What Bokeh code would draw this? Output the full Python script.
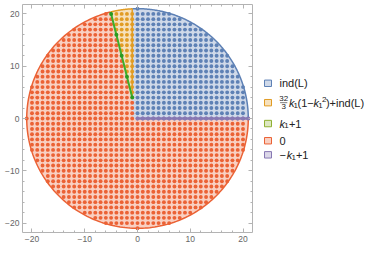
import numpy as np
from bokeh.plotting import figure
from bokeh.layouts import row
from bokeh.models import Range1d, LinearAxis, FixedTicker
from bokeh.embed import file_html
from bokeh.resources import INLINE
from bokeh.core.properties import value

# ---- data ----
radius = 21              # disk of integer lattice points
x_edge = -1              # vertical boundary between regions
slope_k = -0.25          # green line: x = slope_k * y
green_start_y = 4        # green line starts at (x_edge, green_start_y)
axis_min, axis_max = -21.8, 21.8
major_ticks = [-20, -10, 0, 10, 20]
minor_ticks = list(range(-22, 23, 2))
tick_overrides = {-20: "−20", -10: "−10"}

legend_names = ["ind(L)", "32/3 k1(1-k1^2)+ind(L)", "k1+1", "0", "-k1+1"]
dot_colors = ["#5E81B5", "#E19C24", "#8FB032", "#EB6235", "#8778B3"]
fill_colors = ["#CFD9E9", "#F6E1BD", "#DDE7C1", "#F9D0C2", "#DBD7E8"]
green_line_color = "#3DAE2B"
green_dot_color = "#2A9A22"

FONT = value("Liberation Sans")

# ---- lattice points & classification ----
gx, gy = np.meshgrid(np.arange(-radius, radius + 1), np.arange(-radius, radius + 1))
gx = gx.ravel(); gy = gy.ravel()
inside = gx ** 2 + gy ** 2 <= radius ** 2
gx, gy = gx[inside], gy[inside]
cls = np.full(len(gx), 3)
cls[(gx >= 0) & (gy >= 1)] = 0
cls[(gy == 0) & (gx >= 0)] = 4
cls[(gy > green_start_y) & (gx > slope_k * gy) & (gx <= x_edge)] = 1
is_green = (gy >= green_start_y) & (np.isclose(gx, slope_k * gy))
cls[is_green] = 2

# ---- region geometry ----
y_g = radius / np.sqrt(1 + slope_k ** 2)
x_g = slope_k * y_g
th_g = np.arctan2(y_g, x_g)
y_e = np.sqrt(radius ** 2 - x_edge ** 2)
th_e = np.arctan2(y_e, x_edge)

def arc(t0, t1, n=200):
    t = np.linspace(t0, t1, n)
    return list(radius * np.cos(t)), list(radius * np.sin(t))

p = figure(width=256, height=248, x_range=Range1d(axis_min, axis_max),
           y_range=Range1d(axis_min, axis_max), output_backend="svg",
           toolbar_location=None, min_border_left=22, min_border_right=4,
           min_border_top=4, min_border_bottom=16)
p.grid.visible = False
p.outline_line_color = None
p.background_fill_color = "white"

# red region
ax_, ay_ = arc(th_g, 2 * np.pi)
p.patch([x_edge, x_edge] + ax_, [0, green_start_y] + ay_, fill_color=fill_colors[3], line_color=None)
# blue region
bx_, by_ = arc(0, th_e)
p.patch([x_edge] + bx_, [0] + by_, fill_color=fill_colors[0], line_color=None)
# orange region
ox_, oy_ = arc(th_e, th_g)
p.patch([x_edge] + ox_, [green_start_y] + oy_, fill_color=fill_colors[1], line_color=None)

# dots
for c in [3, 0, 1, 4]:
    m = cls == c
    p.scatter(gx[m], gy[m], size=3.9, marker="circle", fill_color=dot_colors[c], line_color=None)

# boundaries
p.line(ax_, ay_, line_color=dot_colors[3], line_width=1.5)
p.line(bx_, by_, line_color=dot_colors[0], line_width=1.5)
p.line(ox_, oy_, line_color=dot_colors[1], line_width=1.5)
p.line([x_edge, x_edge], [green_start_y, y_e], line_color=dot_colors[1], line_width=1.5)
p.line([0, radius], [0, 0], line_color=dot_colors[4], line_width=2.5)
m = cls == 4
p.scatter(gx[m], gy[m], size=3.8, marker="circle", fill_color=dot_colors[4], line_color=None)
p.line([x_edge, x_g], [green_start_y, y_g], line_color=green_line_color, line_width=2)
m = cls == 2
p.scatter(gx[m], gy[m], size=4, marker="circle", fill_color=green_dot_color, line_color=None)

def style_axis(ax, labels=True):
    ax.ticker = FixedTicker(ticks=major_ticks, minor_ticks=minor_ticks)
    ax.axis_line_color = "#b3b3b3"
    ax.major_tick_line_color = "#b3b3b3"
    ax.minor_tick_line_color = "#b3b3b3"
    ax.major_tick_in = 4
    ax.major_tick_out = 0
    ax.minor_tick_in = 2
    ax.minor_tick_out = 0
    ax.major_label_text_font = "Liberation Sans"
    ax.major_label_text_color = "#666666"
    ax.major_label_text_font_size = "8.5px"
    if labels:
        ax.major_label_overrides = tick_overrides
        ax.major_label_standoff = 3
    else:
        ax.major_label_overrides = {t: "" for t in major_ticks}
        ax.major_label_standoff = 0

style_axis(p.xaxis[0]); style_axis(p.yaxis[0])
top = LinearAxis(); right = LinearAxis()
style_axis(top, False); style_axis(right, False)
p.add_layout(top, "above"); p.add_layout(right, "right")

# ---- legend figure ----
leg = figure(width=120, height=248, x_range=Range1d(0, 120), y_range=Range1d(248, 0),
             output_backend="svg", toolbar_location=None, min_border=0)
leg.axis.visible = False
leg.grid.visible = False
leg.outline_line_color = None

item_y = [85.7, 106.8, 129.5, 148.2, 163.5]
box_x0, box_w = 8, 7
text_x = 23
leg.quad(left=[box_x0] * 5, right=[box_x0 + box_w] * 5,
         top=[y - box_w / 2 for y in item_y], bottom=[y + box_w / 2 for y in item_y],
         fill_color=fill_colors, line_color=dot_colors, line_width=1)

TXT = "#222222"
def piece(x, y, t, size=11, style="normal", align="left"):
    leg.text(x=[x], y=[y], text=[t], text_font=FONT, text_font_size=value(f"{size}px"),
             text_font_style=style, text_align=align, text_baseline="middle", text_color=TXT)

y0 = item_y[0]
piece(text_x, y0, "ind(L)")
y1 = item_y[1]
piece(text_x + 4.2, y1 - 4.3, "32", 8, align="center")
leg.line([text_x + 0.6, text_x + 7.8], [y1, y1], line_color=TXT, line_width=0.6)
piece(text_x + 4.2, y1 + 4.6, "3", 8, align="center")
piece(text_x + 9.4, y1, "k", 11, "italic")
piece(text_x + 14.0, y1 + 2.6, "1", 8)
piece(text_x + 18.0, y1, "(1−")
piece(text_x + 34.0, y1, "k", 11, "italic")
piece(text_x + 38.8, y1 + 2.6, "1", 8)
piece(text_x + 42.4, y1 - 3.8, "2", 8)
piece(text_x + 46.4, y1, ")+ind(L)")
y2 = item_y[2]
piece(text_x, y2, "k", 11, "italic")
piece(text_x + 4.8, y2 + 2.6, "1", 8)
piece(text_x + 9.4, y2, "+1")
y3 = item_y[3]
piece(text_x, y3, "0")
y4 = item_y[4]
piece(text_x, y4, "−")
piece(text_x + 7.2, y4, "k", 11, "italic")
piece(text_x + 12.0, y4 + 2.6, "1", 8)
piece(text_x + 16.4, y4, "+1")

layout = row(p, leg)
open("out.html", "w").write(file_html(layout, INLINE))
